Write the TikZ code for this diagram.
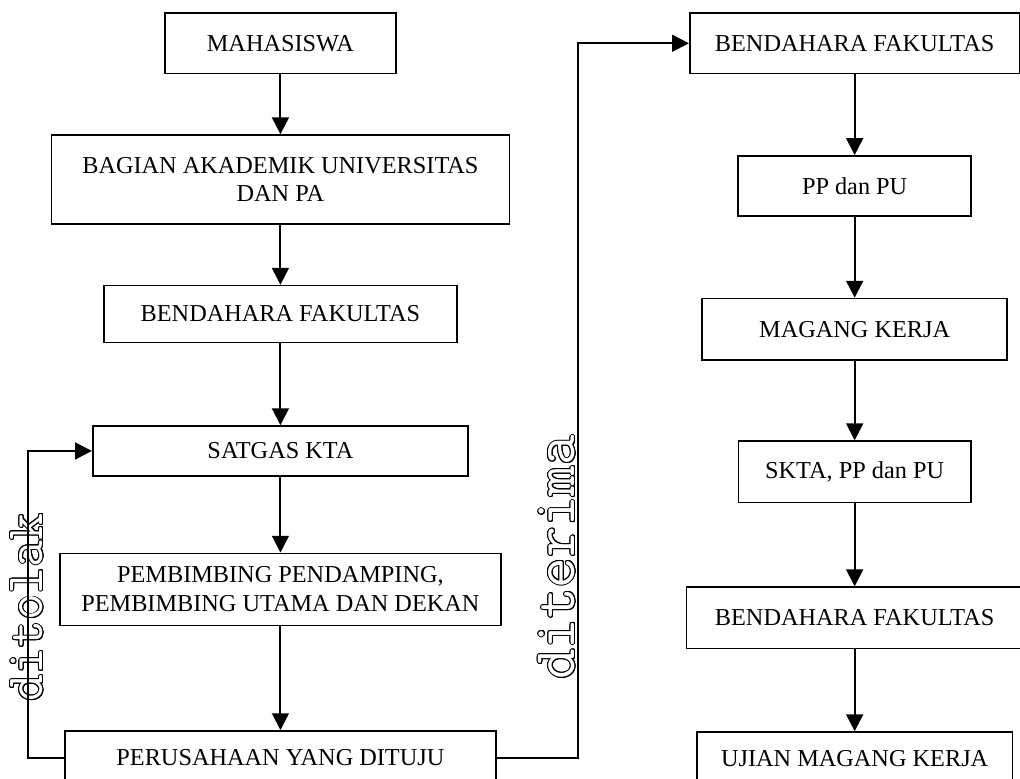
\documentclass[tikz,border=0pt]{standalone}
\usepackage{fontspec}
\setmainfont{Liberation Serif}
\usepackage[copies]{contour}
\contourlength{0.5pt}
\usetikzlibrary{arrows.meta, positioning}

\begin{document}
\begin{tikzpicture}[
        font=\fontsize{12.3}{14.5}\selectfont,
        >={Triangle[length=0.3cm, width=0.3cm]},
        box/.style={draw, line width=0.8pt, align=center, inner sep=2pt},
        arrow/.style={->, line width=1pt},
        tag/.style={rotate=90, anchor=base, text=white, font=\ttfamily\fontsize{#1}{#1}\selectfont}
    ]
        \useasboundingbox (-4.99,0.77) rectangle (13.16,-13.08);

        % left column
        \node[box, minimum width=4.11cm, minimum height=1.07cm] (mhs) {MAHASISWA};
        \node[box, minimum width=8.15cm, minimum height=1.58cm, below=1.07cm of mhs] (akademik) {
            BAGIAN AKADEMIK UNIVERSITAS\\
            DAN PA
        };
        \node[box, minimum width=6.28cm, minimum height=1.01cm, below=1.07cm of akademik] (bendahara) {BENDAHARA FAKULTAS};
        \node[box, minimum width=6.68cm, minimum height=0.89cm, below=1.46cm of bendahara] (satgas) {SATGAS KTA};
        \node[box, minimum width=7.85cm, minimum height=1.28cm, below=1.35cm of satgas] (pembimbing) {
            PEMBIMBING PENDAMPING,\\
            PEMBIMBING UTAMA DAN DEKAN
        };
        \node[box, minimum width=7.67cm, minimum height=0.96cm, below=1.85cm of pembimbing] (perusahaan) {PERUSAHAAN YANG DITUJU};

        % right column
        \node[box, minimum width=5.87cm, minimum height=1.07cm, right=5.2cm of mhs] (bendaharaA) {BENDAHARA FAKULTAS};
        \node[box, minimum width=4.15cm, minimum height=1.07cm, below=1.44cm of bendaharaA] (pppu) {PP dan PU};
        \node[box, minimum width=5.43cm, minimum height=1.09cm, below=1.44cm of pppu] (magang) {MAGANG KERJA};
        \node[box, minimum width=4.13cm, minimum height=1.09cm, below=1.42cm of magang] (skta) {SKTA, PP dan PU};
        \node[box, minimum width=5.98cm, minimum height=1.09cm, below=1.48cm of skta] (bendaharaB) {BENDAHARA FAKULTAS};
        \node[box, minimum width=5.61cm, minimum height=0.96cm, below=1.46cm of bendaharaB] (ujian) {UJIAN MAGANG KERJA};

        % outlined labels
        \node[tag=26.5pt] (ditolak) at (-4.23,-10.04) {\addfontfeature{LetterSpace=10}\contour{black}{ditolak}};
        \node[tag=30pt] (diterima) at (5.24,-9.15) {\addfontfeature{LetterSpace=12}\contour{black}{diterima}};

        \draw[arrow] (mhs) -- (akademik);
        \draw[arrow] (akademik) -- (bendahara);
        \draw[arrow] (bendahara) -- (satgas);
        \draw[arrow] (satgas) -- (pembimbing);
        \draw[arrow] (pembimbing) -- (perusahaan);
        \draw[arrow] (bendaharaA) -- (pppu);
        \draw[arrow] (pppu) -- (magang);
        \draw[arrow] (magang) -- (skta);
        \draw[arrow] (skta) -- (bendaharaB);
        \draw[arrow] (bendaharaB) -- (ujian);
        \draw[arrow] (perusahaan.west) -- ++(-0.64,0) |- (satgas.west);
        \draw[arrow] (perusahaan.east) -- ++(1.44,0) |- (bendaharaA.west);
    \end{tikzpicture}
\end{document}
